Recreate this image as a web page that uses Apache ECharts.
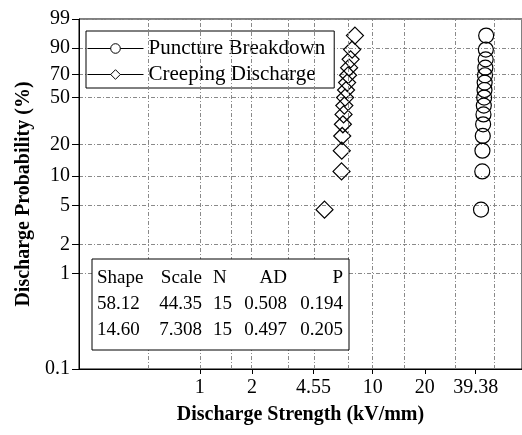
<!DOCTYPE html>
<html>
<head>
<meta charset="utf-8">
<script src="https://cdn.jsdelivr.net/npm/echarts@6/dist/echarts.min.js"></script>
<style>
  html, body { margin: 0; padding: 0; background: #fff; }
  #chart { width: 522px; height: 435px; }
</style>
</head>
<body>
<div id="chart"></div>
<script>
// Weibull probability plot (percent on weibull paper, strength on log axis)
const percentRank = [4.55, 11.04, 17.53, 24.03, 30.52, 37.01, 43.51, 50.00, 56.49, 62.99, 69.48, 75.97, 82.47, 88.96, 95.45];
const punctureVals = [42.3, 43.0, 43.1, 43.3, 43.5, 43.7, 43.9, 44.1, 44.3, 44.4, 44.6, 44.8, 45.0, 45.1, 45.3];
const creepingVals = [5.26, 6.60, 6.62, 6.66, 6.72, 6.78, 6.85, 6.92, 7.01, 7.11, 7.20, 7.30, 7.45, 7.60, 7.89];

// fitted lines: end points (0.1% and 99%)
const fitPercent = [0.1, 99];
const punctureFitX = [39.38, 45.5];
const creepingFitX = [4.55, 8.12];

const xTicks = [1, 2, 4.55, 10, 20, 39.38];
const yTicks = [0.1, 1, 2, 5, 10, 20, 50, 70, 90, 99];
const xGridLines = [0.5, 1, 1.5, 2, 3.2, 4.55, 7.2, 10, 15, 30, 50];
const xMin = 0.2, xMax = 73;

const statsHeader = ['Shape', 'Scale', 'N', 'AD', 'P'];
const statsRows = [
  ['58.12', '44.35', '15', '0.508', '0.194'],
  ['14.60', '7.308', '15', '0.497', '0.205']
];

const wb = p => Math.log(-Math.log(1 - p / 100));
const lg = v => Math.log10(v);
const serif = '"Liberation Serif", "DejaVu Serif", serif';

const chart = echarts.init(document.getElementById('chart'));

const colX = [97, 202, 213, 287, 343];
const colAlign = ['left', 'right', 'left', 'right', 'right'];
const rowY = [278, 304, 330];
const tableText = [];
[statsHeader].concat(statsRows).forEach((row, r) => {
  row.forEach((t, c) => {
    tableText.push({
      type: 'text', z: 101,
      style: {
        text: t, x: colX[c], y: rowY[r], align: colAlign[c], verticalAlign: 'middle',
        fontFamily: serif, fontSize: 19, fill: '#000'
      }
    });
  });
});

const gridStyle = { color: '#8a8a8a', width: 1, type: [4, 2, 1, 2] };

chart.setOption({
  animation: false,
  backgroundColor: '#fff',
  grid: {
    left: 79, right: -2, top: 19, bottom: 66,
    show: true, borderColor: '#000', borderWidth: 1
  },
  legend: {
    data: ['Puncture Breakdown', 'Creeping Discharge'],
    orient: 'vertical', left: 86, top: 31,
    padding: [7, 9, 3, 1],
    itemWidth: 56, itemHeight: 12, itemGap: 5,
    borderColor: '#000', borderWidth: 1, backgroundColor: '#fff',
    textStyle: { fontFamily: serif, fontSize: 21, color: '#000' },
    lineStyle: { width: 1, color: '#000', opacity: 1 },
    itemStyle: { color: '#fff', borderColor: '#000', borderWidth: 1 }
  },
  xAxis: {
    type: 'value', min: lg(xMin), max: lg(xMax),
    name: 'Discharge Strength (kV/mm)', nameLocation: 'middle', nameGap: 36,
    nameTextStyle: { fontFamily: serif, fontSize: 20, fontWeight: 'bold', color: '#000' },
    axisLine: { onZero: false, lineStyle: { color: '#000', width: 1 } },
    axisTick: { customValues: xTicks.map(lg), length: 5, lineStyle: { color: '#000' } },
    axisLabel: {
      customValues: xTicks.map(lg), margin: 9,
      fontFamily: serif, fontSize: 20, color: '#000',
      formatter: v => {
        const t = xTicks.find(k => Math.abs(lg(k) - v) < 1e-6);
        return t === undefined ? '' : String(t);
      }
    },
    splitLine: { show: false }
  },
  yAxis: {
    type: 'value', min: wb(0.1), max: wb(99),
    name: 'Discharge Probability (%)', nameLocation: 'middle', nameGap: 44,
    nameTextStyle: { fontFamily: serif, fontSize: 20, fontWeight: 'bold', color: '#000' },
    axisLine: { show: true, onZero: false, lineStyle: { color: '#000', width: 1 } },
    axisTick: { show: true, customValues: yTicks.map(wb), length: 7, lineStyle: { color: '#000' } },
    axisLabel: {
      customValues: yTicks.map(wb), margin: 9,
      fontFamily: serif, fontSize: 20, color: '#000',
      formatter: v => {
        const t = yTicks.find(k => Math.abs(wb(k) - v) < 1e-6);
        return t === undefined ? '' : String(t);
      }
    },
    splitLine: { show: true, lineStyle: gridStyle }
  },
  series: [
    {
      name: 'vgrid', type: 'line', data: [],
      markLine: {
        symbol: 'none', silent: true, label: { show: false },
        lineStyle: gridStyle,
        data: xGridLines.map(v => ({ xAxis: lg(v) }))
      }
    },
    {
      name: 'Puncture Breakdown', type: 'line',
      data: punctureVals.map((v, i) => [lg(v), wb(percentRank[i])]),
      symbol: 'circle', symbolSize: 15,
      lineStyle: { width: 0, opacity: 0 },
      itemStyle: { color: 'rgba(0,0,0,0)', borderColor: '#000', borderWidth: 1.2 }
    },
    {
      name: 'Creeping Discharge', type: 'line',
      data: creepingVals.map((v, i) => [lg(v), wb(percentRank[i])]),
      symbol: 'diamond', symbolSize: 17,
      lineStyle: { width: 0, opacity: 0 },
      itemStyle: { color: 'rgba(0,0,0,0)', borderColor: '#000', borderWidth: 1.2 }
    }
  ],
  graphic: [
    {
      type: 'rect', z: 100,
      shape: { x: 92, y: 259, width: 257, height: 91 },
      style: { fill: '#fff', stroke: '#000', lineWidth: 1 }
    }
  ].concat(tableText)
});
</script>
</body>
</html>
